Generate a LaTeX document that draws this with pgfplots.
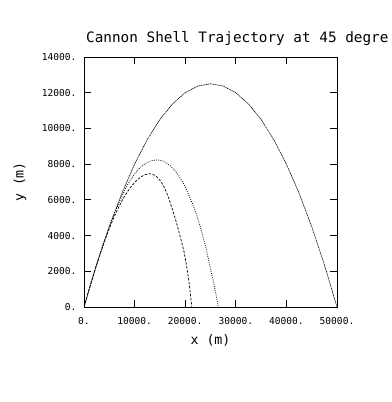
\documentclass[border=0pt]{standalone}
\usepackage{pgfplots}
\pgfplotsset{compat=1.18}
\usepackage{fontspec}
\setmainfont{DejaVu Sans Mono}
\setmonofont{DejaVu Sans Mono}
\begin{document}
\begin{tikzpicture}[x=1bp,y=1bp]
\begin{axis}[
  at={(84bp,95bp)}, anchor=south west,
  scale only axis, width=253bp, height=250bp,
  xmin=0, xmax=50000, ymin=0, ymax=14000,
  xtick={0,10000,20000,30000,40000,50000},
  xticklabels={0.,10000.,20000.,30000.,40000.,50000.},
  ytick={0,2000,4000,6000,8000,10000,12000,14000},
  yticklabels={0.,2000.,4000.,6000.,8000.,10000.,12000.,14000.},
  scaled ticks=false,
  tick align=inside, major tick length=7bp,
  tick style={black, line width=0.8bp},
  axis line style={line width=0.9bp},
  ticklabel style={font=\fontsize{9.6}{10}\selectfont},
  xticklabel style={yshift=-7bp},
  yticklabel style={xshift=-4bp},
  title={Cannon Shell Trajectory at 45 degre},
  title style={at={(0,1)}, anchor=base west, inner sep=0pt, xshift=2bp, yshift=9bp, font=\fontsize{14.4}{15}\selectfont},
  xlabel={x (m)}, ylabel={y (m)},
  every axis x label/.style={at={(0.5,-0.134)}, anchor=center, font=\fontsize{13.3}{14}\selectfont},
  every axis y label/.style={at={(-0.253,0.5)}, anchor=center, rotate=90, font=\fontsize{13.3}{14}\selectfont},
]
% vacuum trajectory
\addplot[black, line width=0.6bp, dash pattern=on 1.2bp off 0.6bp] coordinates {
(0,0) (2500,2375) (5000,4500) (7500,6375) (10000,8000) (12500,9375)
(15000,10500) (17500,11375) (20000,12000) (22500,12375) (25000,12500)
(27500,12375) (30000,12000) (32500,11375) (35000,10500) (37500,9375)
(40000,8000) (42500,6375) (45000,4500) (47500,2375) (50000,0)};
% moderate drag
\addplot[black, line width=0.8bp, dash pattern=on 0.8bp off 1.4bp, smooth] coordinates {
(0,0) (1000,985) (2000,1935) (3000,2840) (4000,3700) (5000,4500)
(6000,5230) (7000,5900) (8000,6510) (9000,7030) (10000,7450)
(11000,7780) (12000,8010) (13000,8160) (14000,8225) (15000,8220)
(16000,8120) (17000,7920) (18000,7620) (19000,7220) (20000,6710)
(21000,6080) (22000,5360) (23000,4480) (24000,3420) (25000,2150)
(26000,830) (26550,0)};
% strong drag
\addplot[black, line width=0.7bp, dash pattern=on 2.5bp off 1.5bp, smooth] coordinates {
(0,0) (1000,980) (2000,1920) (3000,2800) (4000,3630) (5000,4390)
(6000,5070) (7000,5670) (8000,6190) (9000,6620) (10000,6970)
(11000,7230) (12000,7400) (13000,7460) (14000,7370) (15000,7100)
(16000,6620) (17000,5880) (18000,4980) (19000,3960) (19800,3050)
(20400,2080) (20900,1050) (21300,0)};
\end{axis}
\pgfresetboundingbox
\useasboundingbox (0,0) rectangle (392bp,402bp);
\end{tikzpicture}
\end{document}
